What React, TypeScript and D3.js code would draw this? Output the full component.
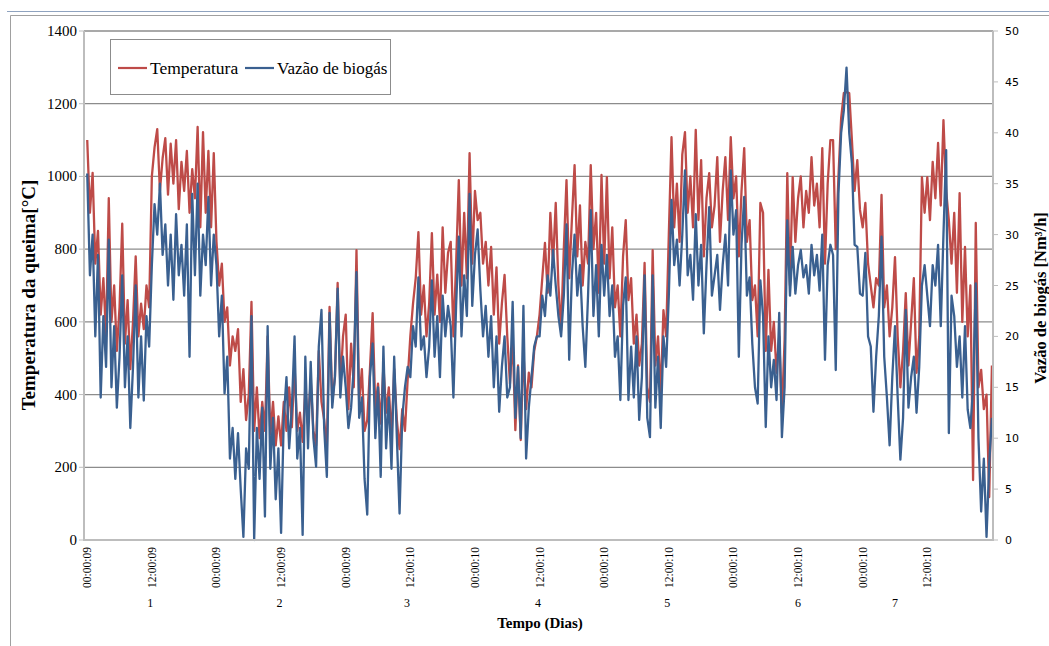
import * as d3 from "d3";

// temperatura [°C], one value every 30 min, one array per half day
const temp0 = [1100, 900, 1010, 760, 850, 620, 720, 560, 940, 600, 700, 520, 640, 870, 540, 660, 470, 600, 780, 560, 650, 580, 700, 640];
const temp1 = [1000, 1080, 1130, 960, 1050, 1105, 950, 1090, 980, 1100, 910, 1040, 960, 1070, 900, 1020, 940, 1136, 860, 1122, 900, 1070, 860, 1064];
const temp2 = [820, 700, 760, 600, 640, 480, 560, 520, 580, 380, 470, 330, 400, 655, 300, 420, 280, 380, 300, 560, 290, 380, 260, 340];
const temp3 = [260, 380, 300, 420, 310, 480, 300, 350, 270, 420, 320, 440, 300, 260, 520, 380, 330, 250, 641, 380, 450, 707, 420, 560];
const temp4 = [620, 360, 540, 420, 797, 380, 470, 300, 330, 470, 624, 360, 430, 320, 480, 350, 420, 280, 470, 330, 250, 360, 300, 440];
const temp5 = [560, 650, 720, 847, 620, 700, 560, 650, 844, 620, 730, 600, 860, 680, 790, 820, 560, 760, 990, 700, 900, 720, 1064, 760];
const temp6 = [960, 880, 900, 760, 820, 700, 806, 620, 750, 540, 650, 729, 560, 430, 560, 302, 480, 275, 520, 360, 460, 420, 520, 560];
const temp7 = [620, 720, 817, 680, 900, 760, 927, 700, 578, 800, 990, 720, 880, 1031, 780, 920, 700, 820, 760, 1031, 800, 900, 680, 1004];
const temp8 = [760, 998, 720, 860, 640, 700, 560, 780, 880, 660, 720, 540, 620, 480, 540, 762, 420, 380, 797, 480, 560, 400, 632, 560];
const temp9 = [840, 1108, 860, 980, 820, 1060, 1122, 900, 1000, 860, 1128, 880, 1045, 780, 940, 1009, 860, 920, 1053, 820, 960, 1053, 880, 1108];
const temp10 = [940, 1000, 780, 960, 1078, 820, 880, 660, 700, 560, 927, 900, 520, 743, 520, 600, 460, 560, 349, 550, 1009, 700, 998, 820];
const temp11 = [940, 1000, 860, 960, 900, 1053, 920, 980, 860, 1078, 760, 980, 1100, 1100, 800, 1000, 1160, 1229, 1232, 1229, 1100, 960, 1045, 908];
const temp12 = [860, 927, 760, 700, 640, 720, 700, 949, 640, 700, 560, 640, 778, 560, 420, 520, 679, 480, 600, 720, 460, 560, 998, 900];
const temp13 = [998, 880, 1040, 940, 1092, 920, 1155, 960, 880, 760, 900, 680, 954, 600, 806, 560, 700, 165, 872, 420, 468, 360, 400, 118, 480];

// vazão de biogás [Nm³/h], same time steps
const gas0 = [36, 26, 30, 20, 28, 14, 22, 17, 29.5, 15, 21, 13, 18, 26, 15, 20, 11, 17, 25, 14, 20, 13.7, 22, 19];
const gas1 = [27, 33, 30, 35, 28, 31, 25, 30, 23.6, 32, 26, 29, 24, 31, 18, 34, 26, 35, 24, 30, 27, 33.7, 25, 30];
const gas2 = [27, 20, 24, 14.4, 18, 8, 11, 6, 10.5, 5, 0.3, 9, 7, 22, 0, 11, 6, 13, 2.3, 21, 7, 12, 4, 9];
const gas3 = [0.7, 12, 16, 9, 13, 20, 8, 11, 0.5, 18, 9, 17.5, 10, 7.2, 19, 22.6, 11, 6.2, 22.3, 13, 16, 24.7, 14, 18];
const gas4 = [15, 11, 13, 17, 26.3, 12, 14, 6, 2.5, 16, 19.3, 10, 15, 6.2, 19, 9, 14, 7, 18, 10, 2.6, 12, 15, 17];
const gas5 = [16, 21, 19, 25.8, 18.7, 20, 16, 19, 25.5, 18, 22, 16, 24, 20, 23, 21, 14, 23, 29.8, 20, 26, 22, 34, 23];
const gas6 = [28, 30.5, 24.6, 20, 23, 18, 22, 15, 20, 12.6, 17, 20, 14, 15, 23.4, 12, 17, 10, 23, 8, 13, 16, 19, 20];
const gas7 = [20, 24, 22, 26, 24, 28.5, 25, 22, 20, 24, 31, 17.7, 26, 30, 24, 27, 21, 17, 24, 32.4, 22, 27, 20, 29];
const gas8 = [24, 28, 22, 25, 18, 20, 13.75, 23, 25.8, 13.75, 19, 14, 20, 11.8, 16, 26, 12, 10.1, 26, 13, 18, 11, 20, 17];
const gas9 = [24, 33.4, 27, 29.5, 25, 30, 36.3, 26, 28, 23.6, 32, 25, 29, 20.3, 27, 32.7, 24, 26, 28, 22.6, 27, 30, 25, 36.3];
const gas10 = [30, 32.4, 18, 29, 33.7, 24, 25.8, 19.3, 15, 13.4, 25.5, 22, 11.1, 20, 15, 17.7, 13.75, 22.3, 10.1, 15, 31.4, 24, 28.8, 24.2];
const gas11 = [27, 28.5, 25.8, 27, 24.2, 29, 26, 28, 24.5, 30, 17.7, 27, 29, 28, 16.7, 34, 40, 42.2, 46.4, 40, 37, 29, 28.8, 24.2];
const gas12 = [24, 28.2, 20, 19, 12.6, 18, 22, 29.8, 18, 14, 9.3, 16, 21, 14, 7.9, 12, 22.6, 13, 16, 18, 12.5, 17, 25, 27];
const gas13 = [24, 21, 27, 25, 29, 21, 30, 38.3, 10.5, 24, 22, 17, 20, 14, 21, 12.8, 11, 15, 25.2, 10, 2.8, 8, 0.3, 7.5, 12];

const timeLabels = ["00:00:09", "12:00:09", "00:00:09", "12:00:09", "00:00:09", "12:00:10", "00:00:10",
  "12:00:10", "00:00:10", "12:00:10", "00:00:10", "12:00:10", "00:00:10", "12:00:10"];
const dayLabels = ["1", "2", "3", "4", "5", "6", "7"];
const dayHours = [11.7, 35.7, 59.4, 83.7, 107.7, 132, 150];
const tempTicks = [0, 200, 400, 600, 800, 1000, 1200, 1400];
const gasTicks = [0, 5, 10, 15, 20, 25, 30, 35, 40, 45, 50];

const temp = [temp0, temp1, temp2, temp3, temp4, temp5, temp6, temp7, temp8, temp9, temp10, temp11, temp12, temp13].flat();
const gas = [gas0, gas1, gas2, gas3, gas4, gas5, gas6, gas7, gas8, gas9, gas10, gas11, gas12, gas13].flat();

const RED = "#BE4B48";
const BLUE = "#3A6090";
const serif = "'Liberation Serif', 'Times New Roman', serif";

export default function App() {
  const W = 1049, H = 646;
  const left = 84, right = 993, top = 31, bottom = 540;

  const x = d3.scaleLinear().domain([-0.6, 168.2]).range([left, right]);
  const yL = d3.scaleLinear().domain([0, 1400]).range([bottom, top]);
  const yR = d3.scaleLinear().domain([0, 50]).range([bottom, top]);

  const lineT = d3.line<number>().x((_, i) => x(i * 0.5)).y((v) => yL(v));
  const lineG = d3.line<number>().x((_, i) => x(i * 0.5)).y((v) => yR(v));

  return (
    <svg width={W} height={H} style={{ position: "absolute", left: 0, top: 0, background: "#fff" }}>
      {/* outer frame */}
      <line x1={7} x2={W} y1={11.5} y2={11.5} stroke="#8FA3BF" />
      <line x1={10.5} x2={W} y1={15.5} y2={15.5} stroke="#A0A0A0" />
      <line x1={10.5} x2={10.5} y1={15.5} y2={H} stroke="#A0A0A0" />

      {/* gridlines */}
      {tempTicks.filter((t) => t > 0).map((t) => (
        <line key={t} x1={left} x2={right} y1={yL(t)} y2={yL(t)} stroke="#8C8C8C" strokeWidth={1.3} />
      ))}

      {/* series */}
      <path d={lineT(temp) ?? ""} fill="none" stroke={RED} strokeWidth={2.3} strokeLinejoin="round" />
      <path d={lineG(gas) ?? ""} fill="none" stroke={BLUE} strokeWidth={2.3} strokeLinejoin="round" />

      {/* axes */}
      <line x1={left} x2={right} y1={bottom} y2={bottom} stroke="#BDBDBD" strokeWidth={2} />
      <line x1={left} x2={left} y1={top} y2={bottom + 1} stroke="#BDBDBD" strokeWidth={2} />
      <line x1={right} x2={right} y1={top} y2={bottom + 1} stroke="#BDBDBD" strokeWidth={2} />
      {tempTicks.map((t) => (
        <g key={`l${t}`}>
          <line x1={left - 5} x2={left} y1={yL(t)} y2={yL(t)} stroke="#BDBDBD" />
          <text x={left - 7} y={yL(t) + 5} textAnchor="end" fontFamily={serif} fontSize={15} fill="#000">{t}</text>
        </g>
      ))}
      {gasTicks.map((t) => (
        <g key={`r${t}`}>
          <line x1={right} x2={right + 5} y1={yR(t)} y2={yR(t)} stroke="#BDBDBD" />
          <text x={right + 12} y={yR(t) + 4} textAnchor="start" fontFamily="'DejaVu Sans', sans-serif" fontSize={11} fill="#000">{t}</text>
        </g>
      ))}

      {/* category labels */}
      {timeLabels.map((s, i) => (
        <text key={`t${i}`} transform={`translate(${x(i * 12) + 4},${547}) rotate(-90)`} textAnchor="end"
          fontFamily={serif} fontSize={11.5} fill="#000">{s}</text>
      ))}
      {dayLabels.map((s, i) => (
        <text key={`d${i}`} x={x(dayHours[i])} y={607} textAnchor="middle" fontFamily={serif} fontSize={12} fill="#000">{s}</text>
      ))}

      {/* axis titles */}
      <text x={540} y={628} textAnchor="middle" fontFamily={serif} fontSize={15} fontWeight="bold">Tempo (Dias)</text>
      <text transform="translate(35,295) rotate(-90)" textAnchor="middle" fontFamily={serif} fontSize={19} fontWeight="bold">
        Temperatura da queima[°C]
      </text>
      <text transform="translate(1046,298) rotate(-90)" textAnchor="middle" fontFamily={serif} fontSize={16.5} fontWeight="bold">
        Vazão de biogás [Nm³/h]
      </text>

      {/* legend */}
      <rect x={110.5} y={39.5} width={280} height={55} fill="#fff" stroke="#8C8C8C" />
      <line x1={118} x2={147} y1={68} y2={68} stroke={RED} strokeWidth={2.2} />
      <text x={150} y={74} fontFamily={serif} fontSize={17.5}>Temperatura</text>
      <line x1={245} x2={274} y1={68} y2={68} stroke={BLUE} strokeWidth={2.2} />
      <text x={277} y={74} fontFamily={serif} fontSize={17}>Vazão de biogás</text>
    </svg>
  );
}
